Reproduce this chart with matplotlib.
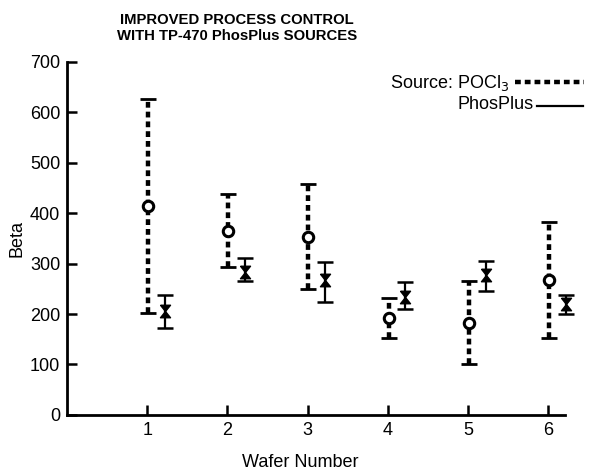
import numpy as np
import matplotlib.pyplot as plt
from matplotlib.path import Path
from matplotlib.lines import Line2D

plt.rcParams['font.family'] = ['Liberation Sans', 'DejaVu Sans']

# data
wafer = [1, 2, 3, 4, 5, 6]
pocl3_mean = [415, 365, 353, 192, 183, 267]
pocl3_high = [627, 438, 457, 232, 266, 383]
pocl3_low = [203, 294, 250, 153, 101, 153]
phos_mean = [205, 284, 268, 234, 277, 219]
phos_high = [238, 312, 303, 264, 305, 238]
phos_low = [172, 265, 223, 210, 246, 200]

x = np.array(wafer, dtype=float)
x_pocl = x + 0.01
x_phos = x + 0.22

fig = plt.figure(figsize=(5.89, 4.72), dpi=100)
ax = fig.add_axes([0.114, 0.121, 0.845, 0.748])

# POCl3: dashed bars
eb = ax.errorbar(x_pocl, pocl3_mean,
                 yerr=[np.array(pocl3_mean) - pocl3_low, np.array(pocl3_high) - pocl3_mean],
                 fmt='none', ecolor='black', elinewidth=3.2, capsize=6, capthick=2, clip_on=False)
for lc in eb[2]:
    lc.set_linestyle((0, (1.3, 0.9)))
ax.plot(x_pocl, pocl3_mean, 'o', ms=7.5, mfc='white', mec='black', mew=2.2, zorder=5)

# PhosPlus: solid bars with hourglass marker
hourglass = Path([(-0.8, 1), (0.8, 1), (0, 0), (0.8, -1), (-0.8, -1), (0, 0), (-0.8, 1)])
ax.errorbar(x_phos, phos_mean,
            yerr=[np.array(phos_mean) - phos_low, np.array(phos_high) - phos_mean],
            fmt='none', ecolor='black', elinewidth=1.6, capsize=6, capthick=1.8, clip_on=False)
ax.plot(x_phos, phos_mean, ls='none', marker=hourglass, ms=9, color='black', zorder=5, clip_on=False)

ax.set_xlim(0, 6.21)
ax.set_ylim(0, 700)
ax.set_xticks(wafer)
ax.set_yticks(range(0, 701, 100))
ax.tick_params(direction='in', length=7, width=1.8, labelsize=13, pad=5)
for s in ['top', 'right']:
    ax.spines[s].set_visible(False)
for s in ['left', 'bottom']:
    ax.spines[s].set_linewidth(2)

ax.set_ylabel('Beta', fontsize=13, labelpad=3)
ax.set_xlabel('Wafer Number', fontsize=13)
ax.xaxis.set_label_coords(0.468, -0.112)

fig.text(0.403, 0.94, 'IMPROVED PROCESS CONTROL\nWITH TP-470 PhosPlus SOURCES',
         ha='center', va='center', fontsize=10.7, fontweight='bold', linespacing=1.15)

# legend drawn by hand
fig.text(0.662, 0.824, 'Source: POCl$_3$', fontsize=13, va='center', ha='left')
fig.text(0.776, 0.778, 'PhosPlus', fontsize=13, va='center', ha='left')
fig.add_artist(Line2D([0.875, 0.992], [0.826, 0.826], color='black', lw=3.2,
                      ls=(0, (1.3, 0.9)), transform=fig.transFigure))
fig.add_artist(Line2D([0.912, 0.99], [0.776, 0.776], color='black', lw=1.6,
                      transform=fig.transFigure))

fig.savefig('out.png', dpi=100)
